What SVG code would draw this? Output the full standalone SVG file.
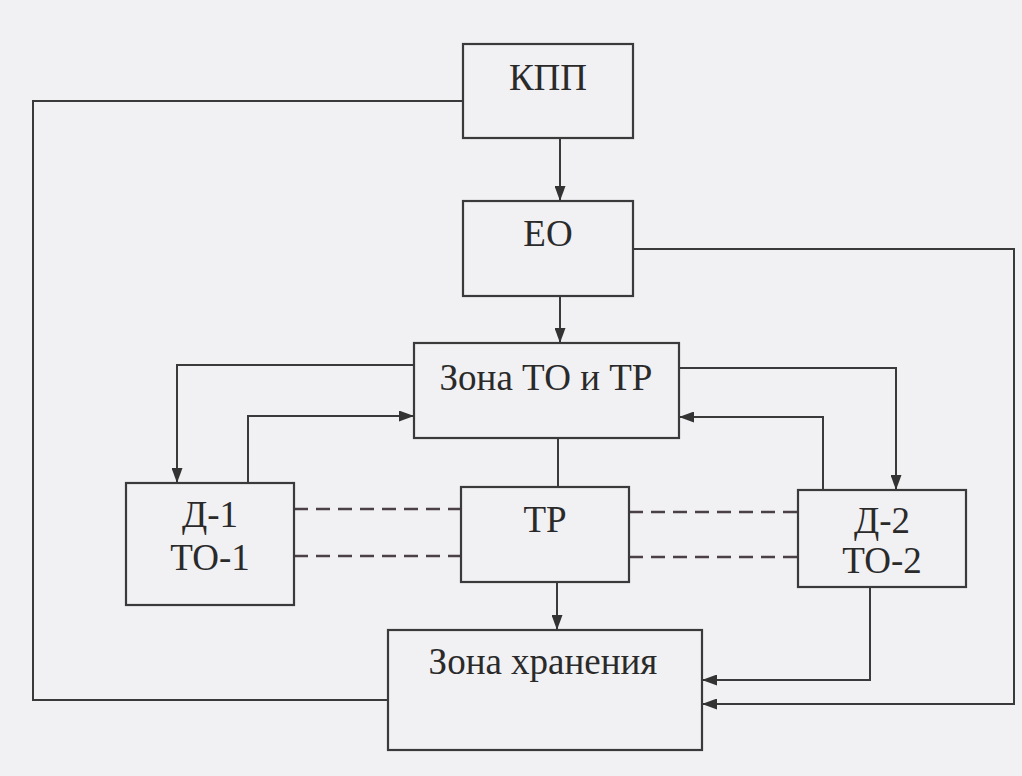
<svg xmlns="http://www.w3.org/2000/svg" width="1022" height="776" viewBox="0 0 1022 776">
<style>
.box{fill:#f1f0f3;stroke:#3a3a3a;stroke-width:2.2}
.ln{fill:none;stroke:#3a3a3a;stroke-width:2}
.dash{fill:none;stroke:#4a4045;stroke-width:2.6;stroke-dasharray:14 8}
.t{font-family:"Liberation Serif","Times New Roman",serif;font-size:37px;fill:#2a2a2a;text-anchor:middle}
</style>
<defs>
<marker id="ah" viewBox="0 0 15 11" refX="15" refY="5.5" markerWidth="15" markerHeight="11" markerUnits="userSpaceOnUse" orient="auto">
<path d="M0,0 L15,5.5 L0,11 Z" fill="#333"/>
</marker>
</defs>
<rect x="0" y="0" width="1022" height="776" fill="#f1f0f3"/>
<g id="connectors">
<path class="ln" d="M560,138 V201" marker-end="url(#ah)"/>
<path class="ln" d="M560,296 V343" marker-end="url(#ah)"/>
<path class="ln" d="M463,101 H33 V700 H388"/>
<path class="ln" d="M633,249 H1014 V704 H702" marker-end="url(#ah)"/>
<path class="ln" d="M414,365 H177 V483" marker-end="url(#ah)"/>
<path class="ln" d="M248,483 V416 H414" marker-end="url(#ah)"/>
<path class="ln" d="M679,368 H896 V490" marker-end="url(#ah)"/>
<path class="ln" d="M823,490 V417 H679" marker-end="url(#ah)"/>
<path class="ln" d="M558,438 V487"/>
<path class="ln" d="M557,582 V630" marker-end="url(#ah)"/>
<path class="ln" d="M870,587 V680 H702" marker-end="url(#ah)"/>
<path class="dash" d="M294,509 H461"/>
<path class="dash" d="M294,556 H461"/>
<path class="dash" d="M629,512 H798"/>
<path class="dash" d="M629,557 H798"/>
</g>
<g id="kpp">
<rect class="box" x="463" y="44" width="170" height="94"/>
<text class="t" x="548" y="90">КПП</text>
</g>
<g id="eo">
<rect class="box" x="463" y="201" width="170" height="95"/>
<text class="t" x="548" y="246">ЕО</text>
</g>
<g id="zona-to-tr">
<rect class="box" x="414" y="343" width="265" height="95"/>
<text class="t" x="546" y="390">Зона ТО и ТР</text>
</g>
<g id="d1">
<rect class="box" x="126" y="483" width="168" height="122"/>
<text class="t" x="210" y="527">Д-1</text>
<text class="t" x="210" y="570">ТО-1</text>
</g>
<g id="tr">
<rect class="box" x="461" y="487" width="168" height="95"/>
<text class="t" x="545" y="532">ТР</text>
</g>
<g id="d2">
<rect class="box" x="798" y="490" width="168" height="97"/>
<text class="t" x="882" y="533">Д-2</text>
<text class="t" x="882" y="573">ТО-2</text>
</g>
<g id="zona-hraneniya">
<rect class="box" x="388" y="630" width="314" height="120"/>
<text class="t" x="543" y="674">Зона хранения</text>
</g>
</svg>
